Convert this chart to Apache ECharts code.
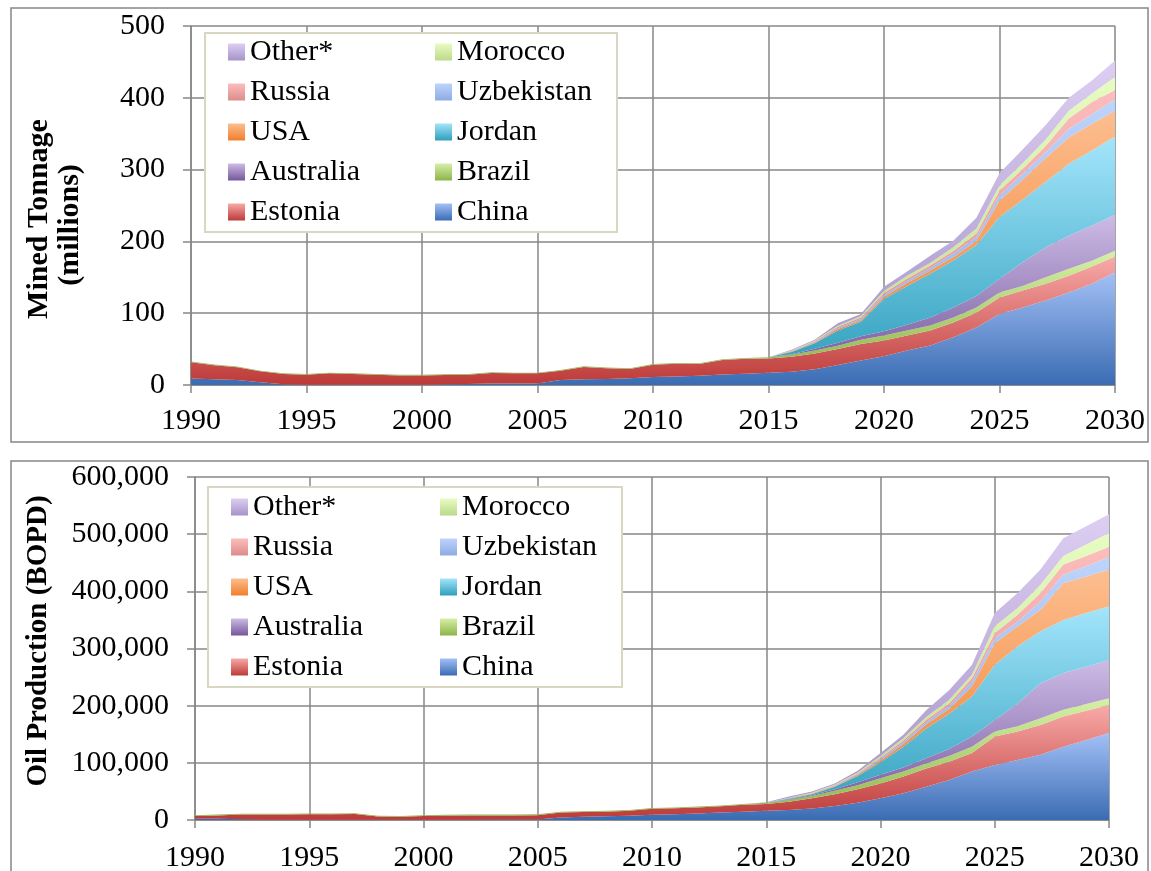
<!DOCTYPE html>
<html><head><meta charset="utf-8">
<script src="https://cdn.jsdelivr.net/npm/echarts@6/dist/echarts.min.js"></script>
<style>html,body{margin:0;padding:0;background:#fff}#c{width:1151px;height:871px}</style>
</head><body><div id="c"></div>
<script>
const years = ['1990','1991','1992','1993','1994','1995','1996','1997','1998','1999','2000','2001','2002','2003','2004','2005','2006','2007','2008','2009','2010','2011','2012','2013','2014','2015','2016','2017','2018','2019','2020','2021','2022','2023','2024','2025','2026','2027','2028','2029','2030'];
const seriesNames = ['China','Estonia','Brazil','Australia','Jordan','USA','Uzbekistan','Russia','Morocco','Other*'];
const legendColLeft = ['Other*','Russia','USA','Australia','Estonia'];
const legendColRight = ['Morocco','Uzbekistan','Jordan','Brazil','China'];

// Mined tonnage (millions)
const tonChina     = [9,8,7,4,1,0.5,0.5,0.5,0.5,0.5,0.5,1,1.5,2,2,2,7,8,8.5,9.5,11,12,13,14.5,15.5,17,18.6,22,28,34,40,48,55,66.5,80,99,108,117.6,129,141,157];
const tonEstonia   = [22.6,19.4,17.6,15,14.3,13.8,15.7,14.8,13.8,12.9,12.9,12.9,12.8,14.7,14.2,14.2,13,17,14.7,12.8,17.3,17.7,16.2,20.3,21.2,20,20.9,22,22,23,22,21,21,20.5,21,23,23.5,23.4,23,24,22];
const tonBrazil    = [1,1,1,1,1,1,1,1,1,1,1,1,1,1,1,1,1,1,1,1,1,1,1,1,1,1.5,2.5,4,4.5,6,7,7,7,7,7,7,6.5,9,10,8,8];
const tonAustralia = [0,0,0,0,0,0,0,0,0,0,0,0,0,0,0,0,0,0,0,0,0,0,0,0,0,0,1,2.5,4.5,5,6,8,11,14,16,19,33,42,46,49,50];
const tonJordan    = [0,0,0,0,0,0,0,0,0,0,0,0,0,0,0,0,0,0,0,0,0,0,0,0,0,0,3,7.5,17,20,45,54,61,65.5,71,86,87,91,100,104.7,109];
const tonUSA       = [0,0,0,0,0,0,0,0,0,0,0,0,0,0,0,0,0,0,0,0,0,0,0,0,0,0,0.5,1,2,2,3,4,4.5,4.5,6,23,28,33,37,37.3,36];
const tonUzbek     = [0,0,0,0,0,0,0,0,0,0,0,0,0,0,0,0,0,0,0,0,0,0,0,0,0,0,0.5,1,1.5,2,2.5,3,3.5,5,5,7,8,8,12,13,16];
const tonRussia    = [0,0,0,0,0,0,0,0,0,0,0,0,0,0,0,0,0,0,0,0,0,0,0,0,0,0,0.5,1,1.5,2,2.5,3,3.5,3.5,5,7,7,9,14,17,13];
const tonMorocco   = [0,0,0,0,0,0,0,0,0,0,0,0,0,0,0,0,0,0,0,0,0,0,0,0,0,0,0.5,1,1.5,2,3,4,3.5,5.5,7,7,8,9,11,12,18];
const tonOther     = [0,0,0,0,0,0,0,0,0,0,0,0,0,0,0,0,0,0,0,0,0,0,0,0,0,0,1,1,3.5,3,6,6,10,9,15,17,19,20,18,18,23];

// Oil production (BOPD)
const oilChina     = [2000,2000,1500,500,500,500,500,500,500,500,500,500,500,800,800,1000,4500,5500,6500,7500,9000,10000,11500,13000,14500,16000,17500,20000,24500,30000,38000,47000,58000,70000,85000,96000,105000,114000,128000,140000,152000];
const oilEstonia   = [5000,6000,8000,9000,9000,9500,9500,10000,5500,5000,6500,7000,7500,7200,7200,7500,8500,8500,8000,8500,10500,10500,10500,11000,12000,12000,14500,18000,20500,24000,26000,29000,32000,32000,32000,50000,50000,52000,53000,51000,49000];
const oilBrazil    = [1500,1500,1500,1500,1500,1500,1500,1500,1500,1500,1500,1500,1500,1500,1500,1500,1500,1500,1500,1500,1500,1500,1500,1500,1500,2000,3000,4000,6000,7000,9000,9000,9000,10000,11000,9000,9000,12000,12000,12000,12000];
const oilAustralia = [0,0,0,0,0,0,0,0,0,0,0,0,0,0,0,0,0,0,0,0,0,0,0,0,0,0,1000,1500,3000,5000,6000,7000,9000,12000,18000,20000,40000,61000,64000,65000,67000];
const oilJordan    = [0,0,0,0,0,0,0,0,0,0,0,0,0,0,0,0,0,0,0,0,0,0,0,0,0,0,1000,1500,4000,11000,22000,36000,52000,62000,70000,96500,100000,91000,93000,94000,94000];
const oilUSA       = [0,0,0,0,0,0,0,0,0,0,0,0,0,0,0,0,0,0,0,0,0,0,0,0,0,0,500,1000,1000,1500,3000,5000,7000,8000,17500,37500,35000,38000,64500,64000,64000];
const oilUzbek     = [0,0,0,0,0,0,0,0,0,0,0,0,0,0,0,0,0,0,0,0,0,0,0,0,0,0,500,500,1000,1500,2500,3000,4000,5000,8500,9000,8000,14000,14500,18000,22000];
const oilRussia    = [0,0,0,0,0,0,0,0,0,0,0,0,0,0,0,0,0,0,0,0,0,0,0,0,0,0,500,500,1000,1500,2500,3000,4000,5000,6000,9000,12000,15000,18000,18000,18000];
const oilMorocco   = [0,0,0,0,0,0,0,0,0,0,0,0,0,0,0,0,0,0,0,0,0,0,0,0,0,0,500,1000,1000,1500,3000,4000,5000,6000,6000,12000,12000,14500,15000,20000,24000];
const oilOther     = [0,0,0,0,0,0,0,0,0,0,0,0,0,0,0,0,0,0,0,0,0,0,0,0,0,1000,2000,2000,2000,3000,5000,6000,12000,17000,17000,23000,26000,26500,31000,32000,33000];

const tonSeries = [tonChina,tonEstonia,tonBrazil,tonAustralia,tonJordan,tonUSA,tonUzbek,tonRussia,tonMorocco,tonOther];
const oilSeries = [oilChina,oilEstonia,oilBrazil,oilAustralia,oilJordan,oilUSA,oilUzbek,oilRussia,oilMorocco,oilOther];

const colors = {
  'China':['#a3c0f6','#3a6cb3'],
  'Estonia':['#f8aaa8','#bd3a38'],
  'Brazil':['#d6f0a6','#8cb448'],
  'Australia':['#cdbbe6','#74579a'],
  'Jordan':['#a3e5fb','#2e9ebc'],
  'USA':['#fdbe90','#f07e2a'],
  'Uzbekistan':['#bdd4fb','#8dabe4'],
  'Russia':['#fcbdbc','#dc8c8a'],
  'Morocco':['#e7fcc2','#bcd98a'],
  'Other*':['#ddcef2','#a593c7']
};
const FONT = '"Liberation Serif", "Times New Roman", serif';
const GRID = '#878787';

function grad(n){
  return new echarts.graphic.LinearGradient(0,0,0,1,[{offset:0,color:colors[n][0]},{offset:1,color:colors[n][1]}]);
}
function mk(name, vals, idx){
  return {
    name, type:'line', stack:'total'+idx, xAxisIndex:idx, yAxisIndex:idx,
    data: vals,
    symbol:'none', showSymbol:false, smooth:false,
    lineStyle:{width:0, color:colors[name][1]},
    itemStyle:{color:colors[name][1]},
    areaStyle:{color:grad(name), opacity:1},
    silent:true, animation:false
  };
}
function legend(names, left, top){
  return {
    orient:'vertical', left, top, itemGap:10, itemWidth:17, itemHeight:17, icon:'rect', padding:0,
    selectedMode:false, z:10,
    textStyle:{fontFamily:FONT, fontSize:30, color:'#000', lineHeight:30},
    data: names.map(n=>({name:n, itemStyle:{color:grad(n)}}))
  };
}
function xAx(idx, margin){
  return {
    type:'category', gridIndex:idx, data:years, boundaryGap:false,
    axisLine:{show:true, onZero:false, lineStyle:{color:GRID, width:1.5}},
    axisTick:{show:true, length:8, interval:4, lineStyle:{color:GRID, width:1.5}},
    splitLine:{show:true, interval:4, lineStyle:{color:GRID, width:1.5}},
    axisLabel:{fontFamily:FONT, fontSize:30, color:'#000', margin, interval:4, showMaxLabel:true}
  };
}
function yAx(idx, max, interval, fmt){
  return {
    type:'value', gridIndex:idx, min:0, max, interval,
    axisLine:{show:true, lineStyle:{color:GRID, width:1.5}},
    axisTick:{show:true, length:8, lineStyle:{color:GRID, width:1.5}},
    splitLine:{show:true, lineStyle:{color:GRID, width:1.5}},
    axisLabel:{fontFamily:FONT, fontSize:30, color:'#000', margin:26, formatter:fmt}
  };
}

const series = [];
seriesNames.forEach((n,i)=>series.push(mk(n, tonSeries[i], 0)));
seriesNames.forEach((n,i)=>series.push(mk(n, oilSeries[i], 1)));

const chart = echarts.init(document.getElementById('c'), null, {renderer:'canvas'});
chart.setOption({
  animation:false,
  backgroundColor:'#fff',
  grid:[
    {left:191, right:36, top:26, bottom:486, outerBoundsMode:'none'},
    {left:195, right:42, top:477, bottom:51, outerBoundsMode:'none'}
  ],
  xAxis:[xAx(0,21), xAx(1,23)],
  yAxis:[
    yAx(0, 500, 100, v=>String(v)),
    yAx(1, 600000, 100000, v=>v===0?'0':v.toLocaleString('en-US'))
  ],
  legend:[
    legend(legendColLeft, 228, 37),
    legend(legendColRight, 435, 37),
    legend(legendColLeft, 231, 492),
    legend(legendColRight, 440, 492)
  ],
  graphic:[
    {type:'rect', z:0, silent:true, shape:{x:11, y:8, width:1137, height:434}, style:{fill:null, stroke:GRID, lineWidth:1.5}},
    {type:'rect', z:0, silent:true, shape:{x:11, y:461, width:1137, height:430}, style:{fill:null, stroke:GRID, lineWidth:1.5}},
    {type:'rect', z:5, silent:true, shape:{x:205, y:33, width:412, height:199}, style:{fill:'#fff', stroke:'#d9d6c1', lineWidth:2}},
    {type:'rect', z:5, silent:true, shape:{x:208, y:487, width:414, height:200}, style:{fill:'#fff', stroke:'#d9d6c1', lineWidth:2}},
    {type:'text', z:5, silent:true, x:39, y:219, rotation:Math.PI/2, style:{text:'Mined Tonnage', fontFamily:FONT, fontWeight:'bold', fontSize:30, fill:'#000', align:'center', verticalAlign:'middle'}},
    {type:'text', z:5, silent:true, x:70, y:225, rotation:Math.PI/2, style:{text:'(millions)', fontFamily:FONT, fontWeight:'bold', fontSize:30, fill:'#000', align:'center', verticalAlign:'middle'}},
    {type:'text', z:5, silent:true, x:39, y:641, rotation:Math.PI/2, style:{text:'Oil Production (BOPD)', fontFamily:FONT, fontWeight:'bold', fontSize:29, fill:'#000', align:'center', verticalAlign:'middle'}}
  ],
  series
});
</script></body></html>
